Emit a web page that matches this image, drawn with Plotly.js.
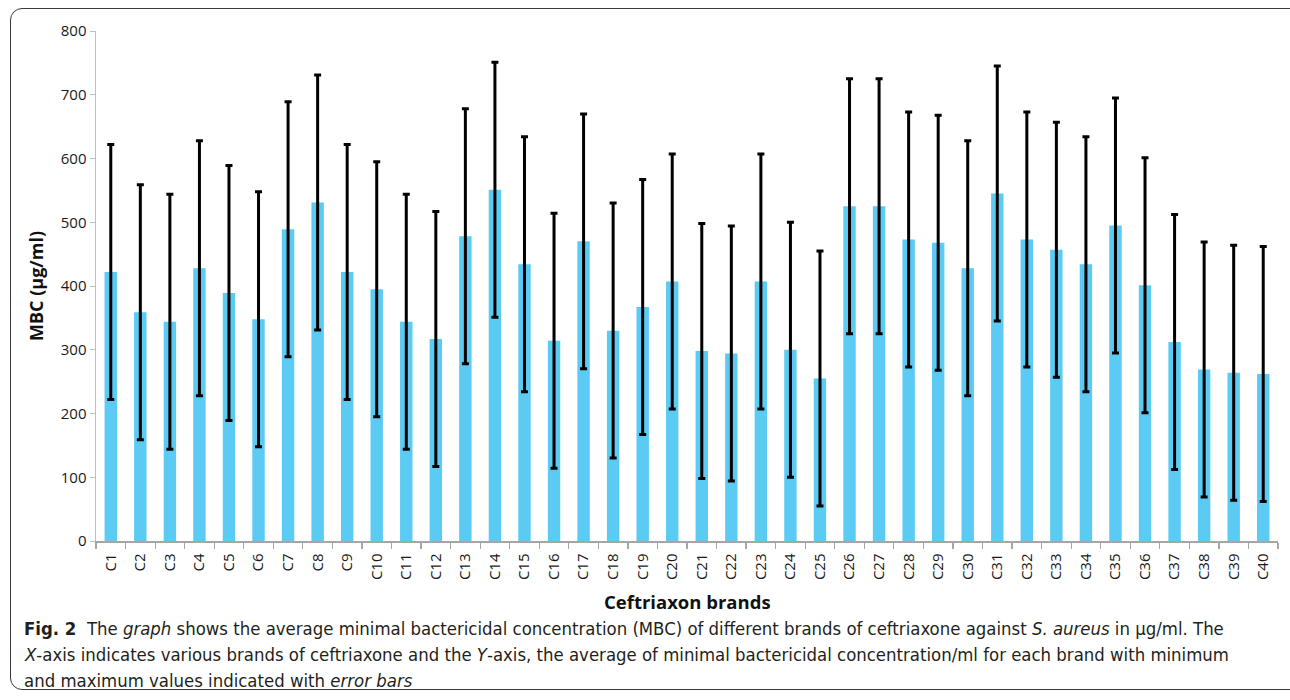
<!DOCTYPE html>
<html>
<head>
<meta charset="utf-8">
<script src="https://cdn.plot.ly/plotly-3.0.1.min.js"></script>
<style>
  html, body { margin: 0; padding: 0; background: #fff; }
  #wrap { position: relative; width: 1290px; height: 700px; overflow: hidden; }
  #chart { position: absolute; left: 0; top: 0; width: 1290px; height: 700px; }
  #frame { position: absolute; left: 10px; top: 8px; width: 1300px; height: 682px;
           border: 1.5px solid #3a3a3a; border-radius: 12px; pointer-events: none; box-sizing: border-box; }
</style>
</head>
<body>
<div id="wrap">
  <div id="chart"></div>
  <div id="frame"></div>
</div>
<script>
const brands = ["C1","C2","C3","C4","C5","C6","C7","C8","C9","C10",
  "C11","C12","C13","C14","C15","C16","C17","C18","C19","C20",
  "C21","C22","C23","C24","C25","C26","C27","C28","C29","C30",
  "C31","C32","C33","C34","C35","C36","C37","C38","C39","C40"];
const meanMBC = [422, 359, 344, 428, 389, 348, 489, 531, 422, 395,
  344, 317, 478, 551, 434, 314, 470, 330, 367, 407,
  298, 294, 407, 300, 255, 525, 525, 473, 468, 428,
  545, 473, 457, 434, 495, 401, 312, 269, 264, 262];
const errUp = [200,200,200,200,200,200,200,200,200,200,
  200,200,200,200,200,200,200,200,200,200,
  200,200,200,200,200,200,200,200,200,200,
  200,200,200,200,200,200,200,200,200,200];
const errDown = [200,200,200,200,200,200,200,200,200,200,
  200,200,200,200,200,200,200,200,200,200,
  200,200,200,200,200,200,200,200,200,200,
  200,200,200,200,200,200,200,200,200,200];
const yTicks = [0, 100, 200, 300, 400, 500, 600, 700, 800];

const M = {l: 96, r: 12, t: 31, b: 159};
const W = 1290, H = 700;
const pw = W - M.l - M.r, ph = H - M.t - M.b;
const px = x => (x - M.l) / pw;
const py = y => (H - M.b - y) / ph;

const capFont = {family: "'Liberation Sans Narrow', 'DejaVu Sans Condensed', 'Open Sans', sans-serif", size: 18.4, color: '#231f20'};

const trace = {
  type: 'bar',
  x: brands,
  y: meanMBC,
  marker: {color: '#5bcbf3'},
  error_y: {type: 'data', symmetric: false, array: errUp, arrayminus: errDown,
            color: '#000000', thickness: 3, width: 3.5},
  hoverinfo: 'x+y'
};

const layout = {
  width: W, height: H,
  margin: M,
  paper_bgcolor: '#ffffff', plot_bgcolor: '#ffffff',
  showlegend: false,
  bargap: 0.58,
  font: {family: "'Open Sans', sans-serif", color: '#1a1a1a'},
  xaxis: {
    type: 'category',
    tickangle: -90,
    tickfont: {size: 15, color: '#1a1a1a'},
    ticklabelstandoff: 5,
    showline: true, linecolor: '#a6a6a6', linewidth: 1.5,
    ticks: 'outside', tickson: 'boundaries', ticklen: 6, tickcolor: '#a6a6a6', tickwidth: 1.2,
    showgrid: false, zeroline: false
  },
  yaxis: {
    range: [0, 800],
    tickvals: yTicks,
    tickfont: {size: 15, color: '#1a1a1a'},
    showline: true, linecolor: '#bfbfbf', linewidth: 1.5,
    ticks: 'outside', ticklen: 5, tickcolor: '#bfbfbf',
    showgrid: false, zeroline: false,
    title: {text: '<b>MBC (µg/ml)</b>', font: {size: 18, color: '#111'}, standoff: 12}
  },
  annotations: [
    {xref: 'paper', yref: 'paper', x: 0.5, y: py(601), xanchor: 'center', yanchor: 'middle', showarrow: false,
     font: {family: "'Open Sans', sans-serif", size: 18.5, color: '#111'},
     text: '<b>Ceftriaxon brands</b>'},
    {xref: 'paper', yref: 'paper', x: px(22), y: py(628), xanchor: 'left', yanchor: 'middle', showarrow: false, align: 'left', font: capFont,
     text: '<b>Fig. 2</b>  The <i>graph</i> shows the average minimal bactericidal concentration (MBC) of different brands of ceftriaxone against <i>S. aureus</i> in µg/ml. The'},
    {xref: 'paper', yref: 'paper', x: px(22), y: py(654), xanchor: 'left', yanchor: 'middle', showarrow: false, align: 'left', font: capFont,
     text: '<i>X</i>-axis indicates various brands of ceftriaxone and the <i>Y</i>-axis, the average of minimal bactericidal concentration/ml for each brand with minimum'},
    {xref: 'paper', yref: 'paper', x: px(22), y: py(680), xanchor: 'left', yanchor: 'middle', showarrow: false, align: 'left', font: capFont,
     text: 'and maximum values indicated with <i>error bars</i>'}
  ]
};

Plotly.newPlot('chart', [trace], layout, {displayModeBar: false, staticPlot: true});
</script>
</body>
</html>
